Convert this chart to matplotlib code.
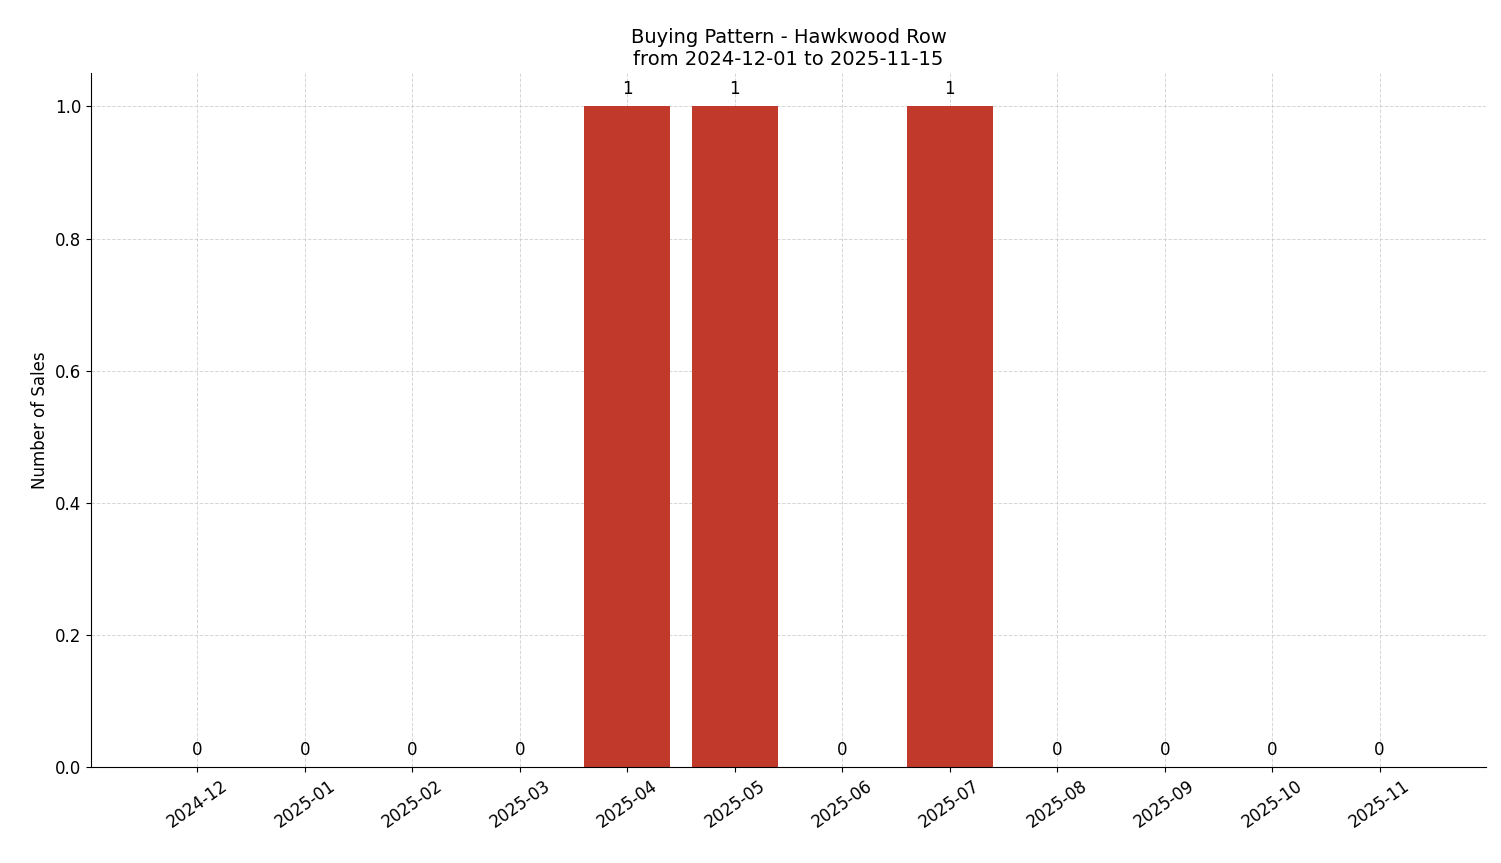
import matplotlib
matplotlib.use("Agg")
import matplotlib.pyplot as plt

months = ["2024-12","2025-01","2025-02","2025-03","2025-04","2025-05",
          "2025-06","2025-07","2025-08","2025-09","2025-10","2025-11"]
sales = [0,0,0,0,1,1,0,1,0,0,0,0]

fig, ax = plt.subplots(figsize=(15.01, 8.63), dpi=100)
fig.subplots_adjust(left=0.0606, right=0.99, top=0.915, bottom=0.111)
x = list(range(len(months)))
bars = ax.bar(x, sales, width=0.8, color="#c0392b", zorder=2)
for xi, v in zip(x, sales):
    ax.text(xi, v + 0.012, str(v), ha="center", va="bottom", fontsize=12)
ax.set_xticks(x)
ax.set_xticklabels(months, rotation=35, fontsize=12)
ax.tick_params(axis="y", labelsize=12)
ax.set_ylabel("Number of Sales", fontsize=12)
ax.set_title("Buying Pattern - Hawkwood Row\nfrom 2024-12-01 to 2025-11-15", fontsize=14)
ax.grid(True, linestyle="--", color="#cccccc", alpha=0.8, linewidth=0.7, zorder=0)
ax.spines["top"].set_visible(False)
ax.spines["right"].set_visible(False)
fig.savefig("out.png", dpi=100)
